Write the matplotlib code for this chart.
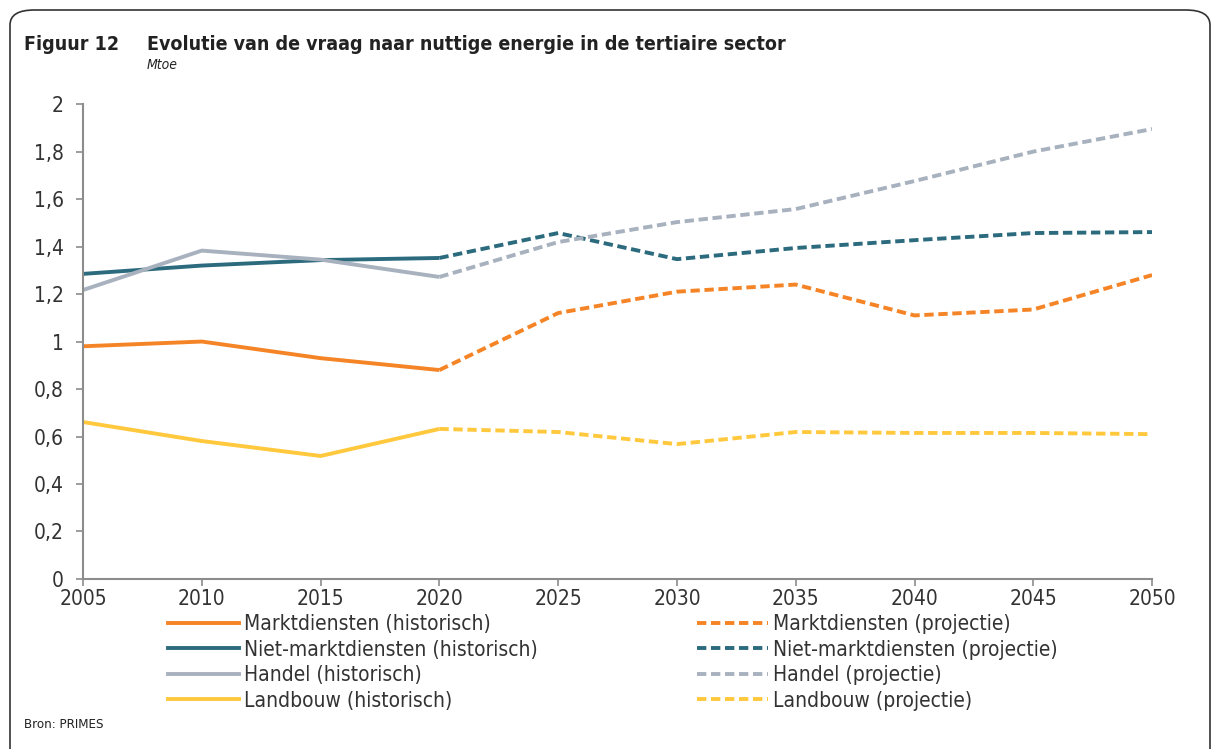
import numpy as np
import matplotlib.pyplot as plt
from matplotlib.patches import FancyBboxPatch
from matplotlib.lines import Line2D

plt.rcParams['font.family'] = ['DejaVu Sans']
plt.rcParams['font.stretch'] = 'condensed'

years_hist = [2005, 2010, 2015, 2020]
years_proj = [2020, 2025, 2030, 2035, 2040, 2045, 2050]

markt_hist = [0.98, 1.00, 0.93, 0.88]
markt_proj = [0.88, 1.12, 1.21, 1.24, 1.11, 1.135, 1.28]
nietmarkt_hist = [1.285, 1.32, 1.343, 1.352]
nietmarkt_proj = [1.352, 1.457, 1.347, 1.394, 1.427, 1.457, 1.461]
handel_hist = [1.217, 1.383, 1.345, 1.272]
handel_proj = [1.272, 1.419, 1.503, 1.558, 1.676, 1.80, 1.895]
landbouw_hist = [0.661, 0.581, 0.518, 0.632]
landbouw_proj = [0.632, 0.619, 0.568, 0.619, 0.615, 0.615, 0.61]

names = ['Marktdiensten', 'Niet-marktdiensten', 'Handel', 'Landbouw']
colors = ['#F58426', '#2C6A7E', '#A8B1BE', '#FFC83D']
hist = [markt_hist, nietmarkt_hist, handel_hist, landbouw_hist]
proj = [markt_proj, nietmarkt_proj, handel_proj, landbouw_proj]

fig = plt.figure(figsize=(12.14, 7.49), dpi=100)
ax = fig.add_axes([0.0684, 0.227, 0.8806, 0.634])

# frame around the figure
box = FancyBboxPatch((10/1214, -0.05), 1200/1214, 1 - 10/749 + 0.05,
                     boxstyle='round,pad=0,rounding_size=0.02',
                     transform=fig.transFigure, fill=False,
                     edgecolor='#333333', linewidth=1.2)
fig.patches.append(box)

dash = (2.4, 1.2)
for h, p, c in zip(hist, proj, colors):
    ax.plot(years_hist, h, color=c, lw=2.8, solid_capstyle='butt')
    ax.plot(years_proj, p, color=c, lw=2.8, dashes=dash)

ax.set_xlim(2005, 2050)
ax.set_ylim(0, 2)
ax.set_xticks(range(2005, 2051, 5))
ax.set_yticks(np.arange(0, 2.01, 0.2))
ax.set_yticklabels(['0', '0,2', '0,4', '0,6', '0,8', '1', '1,2', '1,4', '1,6', '1,8', '2'])
for s in ['top', 'right']:
    ax.spines[s].set_visible(False)
for s in ['left', 'bottom']:
    ax.spines[s].set_color('#8C8C8C')
    ax.spines[s].set_linewidth(1.5)
ax.tick_params(colors='#8C8C8C', labelcolor='#333333', labelsize=15, length=5, width=1.2)
ax.tick_params(axis='x', pad=2)
ax.tick_params(axis='y', pad=9)

fig.text(24/1214, 1 - 44/749, 'Figuur 12', fontsize=14, fontweight='bold', va='center', color='#222222')
fig.text(147/1214, 1 - 44/749, 'Evolutie van de vraag naar nuttige energie in de tertiaire sector',
         fontsize=14, fontweight='bold', va='center', color='#222222')
fig.text(147/1214, 1 - 65/749, 'Mtoe', fontsize=10, style='italic', va='center', color='#222222')
fig.text(24/1214, 1 - 725/749, 'Bron: PRIMES', fontsize=9.5, va='center', color='#222222')

h1 = [Line2D([], [], color=c, lw=2.8) for c in colors]
h2 = [Line2D([], [], color=c, lw=2.8, dashes=dash) for c in colors]
leg1 = fig.legend(h1, [n + ' (historisch)' for n in names], loc='upper left',
                  bbox_to_anchor=(160/1214, 1 - 606/749), frameon=False, fontsize=15,
                  handlelength=3.4, handletextpad=0.25, labelspacing=0.26, borderaxespad=0)
leg2 = fig.legend(h2, [n + ' (projectie)' for n in names], loc='upper left',
                  bbox_to_anchor=(689/1214, 1 - 606/749), frameon=False, fontsize=15,
                  handlelength=3.4, handletextpad=0.25, labelspacing=0.26, borderaxespad=0)
for leg in (leg1, leg2):
    for t in leg.get_texts():
        t.set_color('#333333')

plt.savefig('out.png', dpi=100)
plt.close()
